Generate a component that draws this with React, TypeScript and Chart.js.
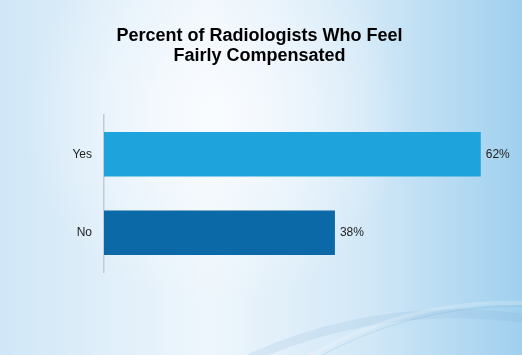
import React, { useEffect, useRef } from "react";
import { Chart, registerables } from "chart.js";

Chart.register(...registerables);

const titleLines = ["Percent of Radiologists Who Feel", "Fairly Compensated"];
const categories = ["Yes", "No"];
const values = [62, 38];
const barColors = ["#1ea3dc", "#0b69a7"];
const valueSuffix = "%";

const backgroundPlugin = {
  id: "slideBackground",
  beforeDraw(chart: any) {
    const { ctx, width, height } = chart;
    ctx.save();
    const lin = ctx.createLinearGradient(0, 0, width, 0);
    lin.addColorStop(0, "#d0e7f7");
    lin.addColorStop(0.4, "#eef6fc");
    lin.addColorStop(0.7, "#d2e8f7");
    lin.addColorStop(1, "#a0d0ee");
    ctx.fillStyle = lin;
    ctx.fillRect(0, 0, width, height);
    const rad = ctx.createRadialGradient(215, 115, 0, 215, 115, 190);
    rad.addColorStop(0, "rgba(250,252,255,0.9)");
    rad.addColorStop(1, "rgba(250,252,255,0)");
    ctx.fillStyle = rad;
    ctx.fillRect(0, 0, width, height);
    // decorative swoosh
    ctx.lineCap = "round";
    ctx.strokeStyle = "rgba(120,170,210,0.15)";
    ctx.lineWidth = 9;
    ctx.beginPath();
    ctx.moveTo(250, 358);
    ctx.quadraticCurveTo(380, 300, 522, 318);
    ctx.stroke();
    ctx.strokeStyle = "rgba(255,255,255,0.2)";
    ctx.lineWidth = 4;
    ctx.beginPath();
    ctx.moveTo(300, 362);
    ctx.quadraticCurveTo(400, 300, 522, 303);
    ctx.stroke();
    ctx.strokeStyle = "rgba(110,160,200,0.2)";
    ctx.lineWidth = 1;
    ctx.beginPath();
    ctx.moveTo(310, 362);
    ctx.quadraticCurveTo(405, 306, 522, 306);
    ctx.stroke();
    ctx.restore();
  },
};

const valueLabelPlugin = {
  id: "valueLabels",
  afterDatasetsDraw(chart: any) {
    const { ctx } = chart;
    const meta = chart.getDatasetMeta(0);
    ctx.save();
    ctx.font = "12px 'Liberation Sans', Arial, sans-serif";
    ctx.fillStyle = "#222222";
    ctx.textAlign = "left";
    ctx.textBaseline = "middle";
    meta.data.forEach((bar: any, i: number) => {
      ctx.fillText(values[i] + valueSuffix, bar.x + 5, bar.y);
    });
    ctx.restore();
  },
};

export default function App() {
  const canvasRef = useRef<HTMLCanvasElement | null>(null);

  useEffect(() => {
    if (!canvasRef.current) return;
    const chart = new Chart(canvasRef.current, {
      type: "bar",
      data: {
        labels: categories,
        datasets: [
          {
            data: values,
            backgroundColor: barColors,
            borderWidth: 0,
            barPercentage: 0.567,
            categoryPercentage: 1,
          },
        ],
      },
      options: {
        indexAxis: "y",
        animation: false,
        responsive: true,
        maintainAspectRatio: false,
        layout: { padding: { left: 20, right: 23, top: 0, bottom: 83 } },
        plugins: {
          legend: { display: false },
          tooltip: { enabled: false },
          title: {
            display: true,
            text: titleLines,
            color: "#000000",
            font: { family: "'Liberation Sans', Arial, sans-serif", size: 18, weight: "bold", lineHeight: 1.11 },
            padding: { top: 26, bottom: 49 },
          },
        },
        scales: {
          x: {
            display: false,
            min: 0,
            max: 65,
          },
          y: {
            afterFit(scale: any) {
              scale.width = 84;
            },
            grid: { display: false, drawTicks: false },
            border: { display: true, color: "#c3ccd4", width: 1.5 },
            ticks: {
              padding: 12,
              color: "#222222",
              font: { family: "'Liberation Sans', Arial, sans-serif", size: 12 },
            },
          },
        },
      },
      plugins: [backgroundPlugin, valueLabelPlugin],
    });
    return () => chart.destroy();
  }, []);

  return (
    <div style={{ position: "absolute", left: 0, top: 0, width: 522, height: 355 }}>
      <canvas ref={canvasRef} />
    </div>
  );
}
